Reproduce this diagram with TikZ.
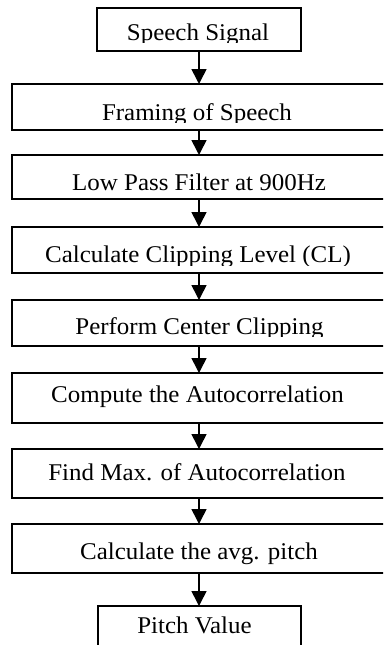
\documentclass[tikz,border=0pt]{standalone}
\usepackage{fontspec}
\setmainfont[FakeStretch=1.04]{Liberation Serif}
\usetikzlibrary{arrows.meta}
\begin{document}
\begin{tikzpicture}[x=1pt,y=-1pt,
  boxst/.style={draw=black,line width=1.3pt,rectangle,inner sep=0pt,outer sep=0pt,minimum width=#1},
  boxst/.default=378pt,
  lbl/.style={anchor=base,inner sep=0pt,font=\fontsize{24}{28}\selectfont},
  arr/.style={line width=1.6pt,-{Triangle[width=15pt,length=15pt]}}]
\useasboundingbox (0,0) rectangle (383,645);
\clip (0,0) rectangle (383,645);
% boxes
\node[boxst=204pt,minimum height=43pt] (b1) at (199,29.5) {};
\node[boxst,minimum height=46pt] (b2) at (201,107) {};
\node[boxst,minimum height=44pt] (b3) at (201,177) {};
\node[boxst,minimum height=46pt] (b4) at (201,250) {};
\node[boxst,minimum height=46pt] (b5) at (201,323) {};
\node[boxst,minimum height=50pt] (b6) at (201,398) {};
\node[boxst,minimum height=49pt] (b7) at (201,473.5) {};
\node[boxst,minimum height=49pt] (b8) at (201,548.5) {};
\node[boxst=203pt,minimum height=60pt] (b9) at (199.5,636) {};
% texts (clipped like the original text boxes)
\begin{scope}\clip (0,8) rectangle (383,42);
\node[lbl] (t1) at (198,40) {Speech Signal};\end{scope}
\begin{scope}\clip (0,84) rectangle (383,122);
\node[lbl] (t2) at (197,120) {Framing of Speech};\end{scope}
\node[lbl] (t3) at (199,190) {Low Pass Filter at 900Hz};
\begin{scope}\clip (0,227) rectangle (383,265);
\node[lbl] (t4) at (198,262) {Calculate Clipping Level (CL)};\end{scope}
\begin{scope}\clip (0,300) rectangle (383,336);
\node[lbl] (t5) at (199.5,334) {Perform Center Clipping};\end{scope}
\node[lbl] (t6) at (197.5,402) {Compute the Autocorrelation};
\node[lbl] (t7) at (197,480) {Find Max. of Autocorrelation};
\node[lbl] (t8) at (199,559) {Calculate the avg. pitch};
\node[lbl] (t9) at (194.5,633) {Pitch Value};
% connectors
\draw[arr] (b1.south) -- (b1.south |- b2.north);
\draw[arr] (b1.south |- b2.south) -- (b1.south |- b3.north);
\draw[arr] (b1.south |- b3.south) -- (b1.south |- b4.north);
\draw[arr] (b1.south |- b4.south) -- (b1.south |- b5.north);
\draw[arr] (b1.south |- b5.south) -- (b1.south |- b6.north);
\draw[arr] (b1.south |- b6.south) -- (b1.south |- b7.north);
\draw[arr] (b1.south |- b7.south) -- (b1.south |- b8.north);
\draw[arr] (b1.south |- b8.south) -- (b1.south |- b9.north);
\end{tikzpicture}
\end{document}
